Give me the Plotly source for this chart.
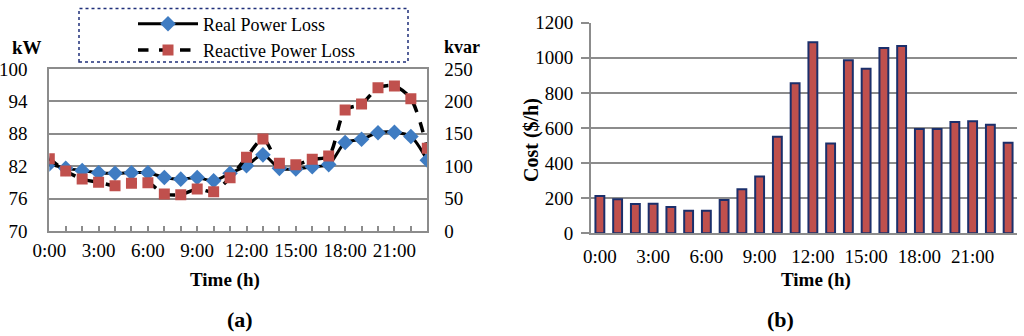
import plotly.graph_objects as go

# ---------------- data ----------------
hours = list(range(24))
tick_hours = [0, 3, 6, 9, 12, 15, 18, 21]
tick_labels = ["0:00", "3:00", "6:00", "9:00", "12:00", "15:00", "18:00", "21:00"]

real_loss_kw = [82.4, 81.6, 81.2, 80.8, 80.7, 80.8, 80.8, 79.9, 79.6, 79.9, 79.3, 80.7,
                82.1, 84.1, 81.6, 81.5, 81.9, 82.3, 86.4, 87.0, 88.2, 88.3, 87.5, 83.1]
reactive_loss_kvar = [111.6, 92.6, 80.2, 75.1, 70.0, 73.6, 74.6, 57.1, 56.1, 64.8, 60.7, 82.3,
                      113.7, 142.0, 104.4, 102.3, 110.6, 115.7, 186.7, 196.0, 221.0, 223.8, 204.2, 127.6]
cost_per_hour = [212, 194, 167, 169, 150, 129, 129, 190, 251, 323, 550, 855,
                 1088, 511, 986, 938, 1056, 1067, 594, 594, 634, 639, 619, 516]

W, H = 1024, 336
def px(x):
    return x / W
def py(y):
    return 1 - y / H

FONT = "Liberation Serif"
GRID = "#8c8c8c"

fig = go.Figure()

fig.add_trace(go.Scatter(
    x=hours, y=real_loss_kw, name="Real Power Loss", mode="lines+markers",
    line=dict(color="black", width=3, shape="spline", smoothing=0.8),
    marker=dict(symbol="diamond", size=12, color="#3f7cc2"),
    xaxis="x", yaxis="y"))
fig.add_trace(go.Scatter(
    x=hours, y=reactive_loss_kvar, name="Reactive Power Loss", mode="lines+markers",
    line=dict(color="black", width=3.5, dash="dash", shape="spline", smoothing=0.8),
    marker=dict(symbol="square", size=11, color="#c0504d"),
    xaxis="x", yaxis="y2"))

fig.add_trace(go.Bar(
    x=hours, y=cost_per_hour, name="Cost", showlegend=False,
    marker=dict(color="#c0504d", line=dict(color="#1b2f6b", width=2)),
    xaxis="x2", yaxis="y3"))

def label(text, x, y, size, angle=0):
    return dict(text=text, x=px(x), y=py(y), xref="paper", yref="paper",
                xanchor="center", yanchor="middle", showarrow=False,
                textangle=angle, font=dict(size=size))

fig.update_layout(
    template="none",
    autosize=False,
    width=W, height=H, margin=dict(l=0, r=0, t=0, b=0, pad=0, autoexpand=False),
    paper_bgcolor="white", plot_bgcolor="white",
    font=dict(family=FONT, size=19, color="black"),
    bargap=0.5,
    xaxis=dict(domain=[px(49.3), px(427.3)], range=[0, 23], automargin=False,
               tickmode="array", tickvals=tick_hours, ticktext=tick_labels, tickangle=0,
               ticks="inside", ticklen=5, tickcolor=GRID, tickwidth=1.5,
               minor=dict(dtick=1, tick0=0, ticks="inside", ticklen=5, tickcolor=GRID, tickwidth=1.5),
               showline=True, mirror=True, linecolor=GRID, linewidth=2,
               showgrid=False, zeroline=False, ticklabelstandoff=1, anchor="y"),
    yaxis=dict(domain=[py(231), py(69)], range=[70, 100], dtick=6, tick0=70, automargin=False,
               showline=True, mirror=True, linecolor=GRID, linewidth=2,
               showgrid=True, gridcolor=GRID, gridwidth=1.5, zeroline=False,
               ticks="", ticklabelstandoff=16, anchor="x"),
    yaxis2=dict(range=[0, 250], dtick=50, overlaying="y", side="right", anchor="x",
                automargin=False,
                showgrid=False, zeroline=False, showline=False, ticks="",
                ticklabelstandoff=16),
    xaxis2=dict(domain=[px(591), px(1017)], range=[-0.5, 23.5], automargin=False,
                tickmode="array", tickvals=tick_hours, ticktext=tick_labels, tickangle=0,
                showline=True, linecolor=GRID, linewidth=2, showgrid=False, zeroline=False,
                ticks="", ticklabelstandoff=5, anchor="y3"),
    yaxis3=dict(domain=[py(233.3), py(22.7)], range=[0, 1200], dtick=200, automargin=False,
                showline=True, linecolor=GRID, linewidth=2,
                showgrid=True, gridcolor=GRID, gridwidth=1.5, zeroline=False,
                ticks="outside", ticklen=8, tickcolor=GRID, tickwidth=1.5,
                ticklabelstandoff=4, anchor="x2"),
    legend=dict(x=px(133), y=py(5.5), xanchor="left", yanchor="top",
                bgcolor="rgba(0,0,0,0)", borderwidth=0, itemwidth=60,
                font=dict(family=FONT, size=18), tracegroupgap=0),
    shapes=[dict(type="rect", xref="paper", yref="paper",
                 x0=px(79), x1=px(408), y0=py(62), y1=py(8.5),
                 line=dict(color="#1f2f7a", width=1.5, dash="dot"))],
    annotations=[
        label("<b>kW</b>", 27, 48, 19),
        label("<b>kvar</b>", 462, 47, 18),
        label("<b>Time (h)</b>", 225, 280, 19),
        label("<b>Time (h)</b>", 816, 280, 19),
        label("<b>Cost ($/h)</b>", 531, 140, 20, angle=-90),
        label("<b>(a)</b>", 240, 319, 22),
        label("<b>(b)</b>", 780, 319, 22),
    ],
)

fig.write_html(
    "out.html",
    config={"displayModeBar": False},
    post_script="document.documentElement.style.margin='0';"
                "document.body.style.margin='0';document.body.style.overflow='hidden';",
)
